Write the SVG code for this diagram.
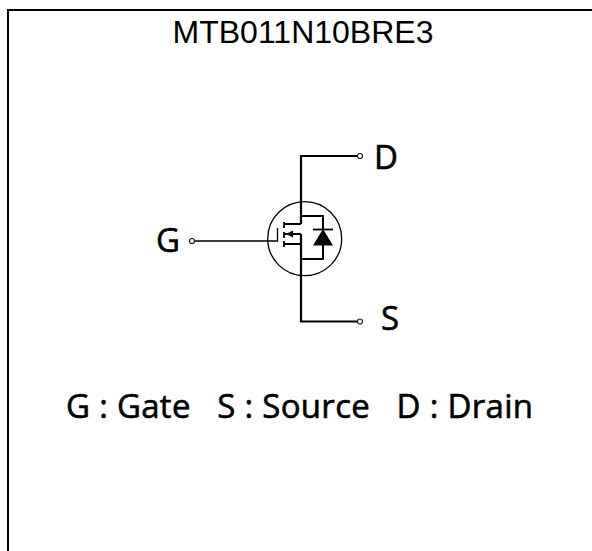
<svg xmlns="http://www.w3.org/2000/svg" width="592" height="551" viewBox="0 0 592 551">
<style>
.w{fill:none;stroke:#000;stroke-width:2.2}
.t{fill:none;stroke:#000;stroke-width:1.3}
.b{fill:none;stroke:#000;stroke-width:1.8}
.c{fill:#fff;stroke:#222;stroke-width:1.2}
.l{font-family:"Open Sans","Noto Sans",sans-serif;font-size:33px;fill:#000;stroke:#000;stroke-width:.6}
</style>
<rect width="592" height="551" fill="#fff"/>
<path id="frame" d="M8 551V10H592" fill="none" stroke="#000" stroke-width="2"/>
<text id="title" x="303" y="43" text-anchor="middle" font-family="Liberation Sans, Arial, sans-serif" font-size="32" fill="#000">MTB011N10BRE3</text>
<g id="connectors">
<path class="w" d="M301 224V156H358"/>
<path class="w" d="M301 234V321.500H358"/>
<path class="t" d="M194 241H277.500V228"/>
</g>
<g id="mosfet">
<circle class="t" cx="304.700" cy="238.700" r="37"/>
<path class="b" d="M301 216H323V259H301"/>
<path class="b" d="M323 216V229M323 245V259"/>
<path class="b" d="M284 222V228M284 232V238M284 241V247"/>
<path class="b" d="M284 224H301M284 234H301M284 244H301"/>
<path d="M286 234L293 230.500V237.500Z" fill="#000"/>
<path d="M313 245.500L323 229L333 245.500Z" fill="#000"/>
<path class="b" d="M313 229.500H333"/>
</g>
<g id="D"><circle class="c" cx="360" cy="156" r="2.500"/><text class="l" x="374" y="169">D</text></g>
<g id="S"><circle class="c" cx="360" cy="321.500" r="2.500"/><text class="l" x="381" y="330">S</text></g>
<g id="G"><circle class="c" cx="192" cy="241" r="2.500"/><text class="l" x="156" y="252">G</text></g>
<text id="legend" class="l" x="66" y="418" textLength="467" xml:space="preserve">G : Gate   S : Source   D : Drain</text>
</svg>
